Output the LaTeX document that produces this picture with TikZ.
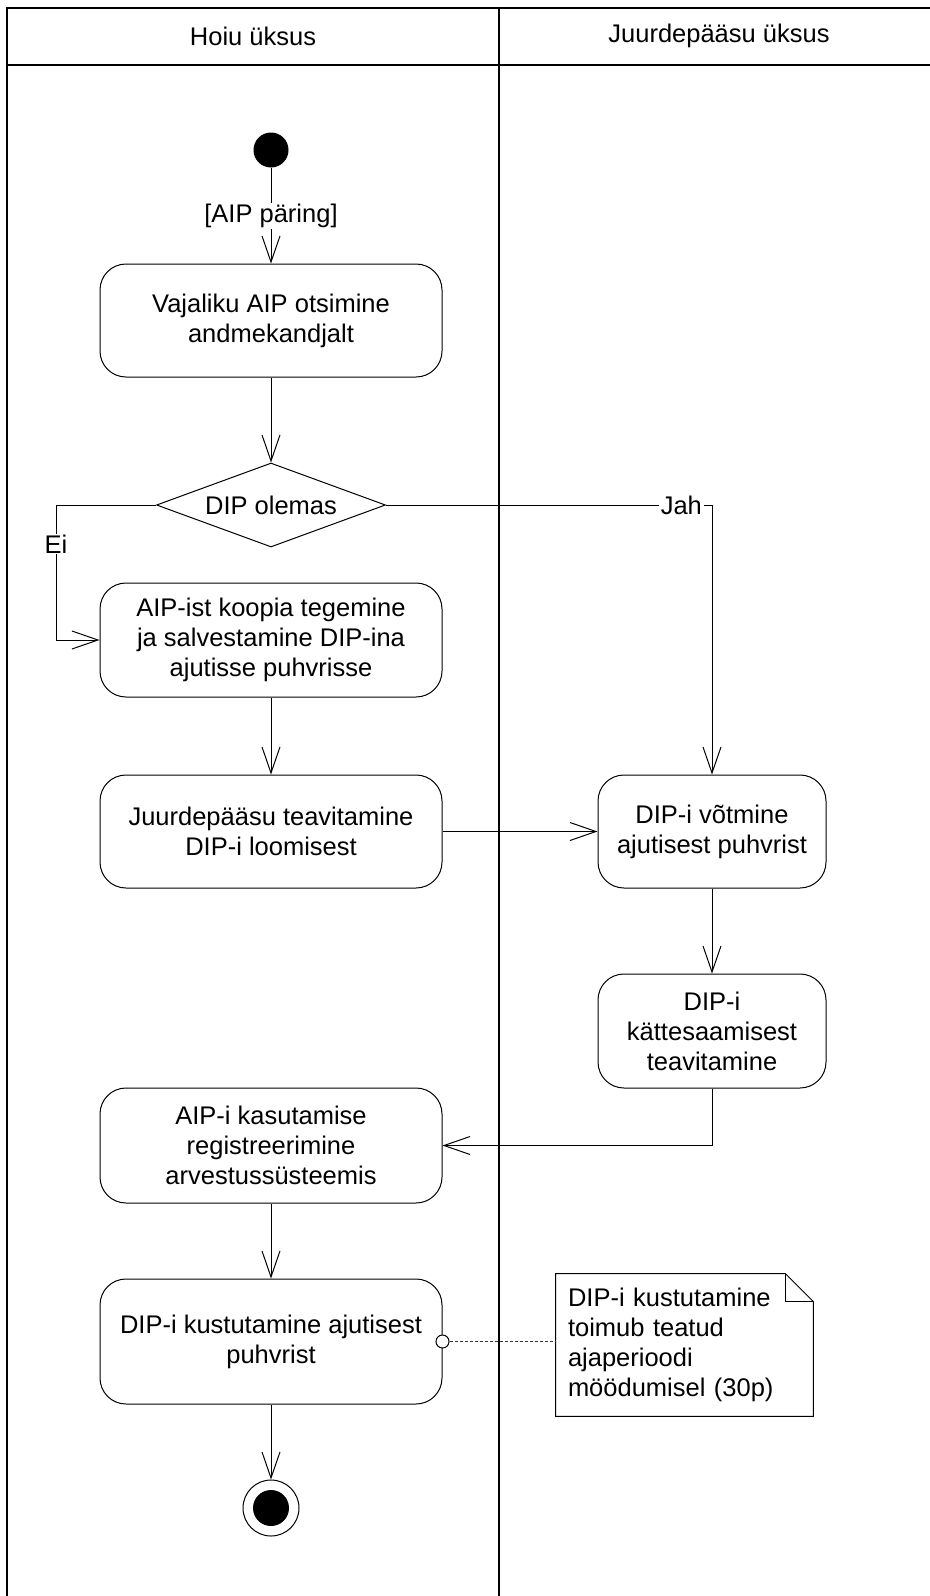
\documentclass[tikz,border=0pt]{standalone}
\usepackage{fontspec}
\setmainfont{Liberation Sans}
\usetikzlibrary{arrows.meta,shapes.geometric}
\begin{document}
\begin{tikzpicture}[x=0.5pt,y=-0.5pt,
  every node/.style={font=\fontsize{12.75pt}{15pt}\selectfont},
  lane/.style={line width=0.8pt},
  action/.style={draw, line width=0.5pt, rounded corners=13pt, align=center,
    minimum width=171pt, minimum height=56.5pt, inner sep=2pt},
  decision/.style={draw, line width=0.5pt, diamond, aspect=2.73, inner sep=0pt,
    minimum width=114.5pt, minimum height=42pt},
  flow/.style={line width=0.5pt, -{Straight Barb[length=13pt,width=9pt]}},
  guard/.style={fill=white, inner xsep=1pt, inner ysep=0.5pt},
  notebox/.style={minimum width=128.5pt, minimum height=71pt, inner xsep=6pt,
    text width=116.5pt, align=left},
  anchorpt/.style={circle, draw, fill=white, line width=0.5pt, minimum size=6.5pt, inner sep=0pt},
  notelink/.style={line width=0.4pt, dash pattern=on 1.5pt off 1pt, draw=black!80}
]
\useasboundingbox (0,0) rectangle (930,1596);

% swimlanes
\draw[lane] (7,1596) -- (7,8) -- (930,8);
\draw[lane] (7,65) -- (930,65);
\draw[lane] (499,8) -- (499,1596);
\node (laneA) at (253,36) {Hoiu üksus};
\node (laneB) at (719,36) {Juurdepääsu üksus};

% activities
\node[circle, fill=black, minimum size=17.5pt, inner sep=0pt] (start) at (271,150) {};
\node[action] (b1) at (271,320.5) {Vajaliku AIP otsimine\\andmekandjalt};
\node[decision] (dec) at (271,505) {DIP olemas};
\node[action, minimum height=57pt] (b2) at (271,640) {AIP-ist koopia tegemine\\ja salvestamine DIP-ina\\ajutisse puhvrisse};
\node[action] (b3) at (271,831.5) {Juurdepääsu teavitamine\\DIP-i loomisest};
\node[action, minimum width=114pt] (b4) at (712,831.5) {DIP-i võtmine\\ajutisest puhvrist};
\node[action, minimum width=114pt, minimum height=57pt] (b5) at (712,1031) {DIP-i\\kättesaamisest\\teavitamine};
\node[action, minimum height=57.5pt] (b6) at (271,1145.5) {AIP-i kasutamise\\registreerimine\\arvestussüsteemis};
\node[action, minimum height=62.5pt] (b7) at (271,1341.5) {DIP-i kustutamine ajutisest\\puhvrist};
\node[circle, draw, line width=0.5pt, minimum size=28pt, inner sep=0pt] (final) at (271,1508) {};
\node[circle, fill=black, minimum size=18pt, inner sep=0pt] (finaldot) at (final.center) {};

% note with folded corner
\node[notebox] (note) at (684.5,1345) {DIP-i kustutamine\\toimub teatud\\ajaperioodi\\möödumisel (30p)};
\draw[line width=0.5pt] (note.north west) -- ([xshift=-14pt]note.north east)
  -- ([yshift=-14pt]note.north east) -- (note.south east) -- (note.south west) -- cycle;
\draw[line width=0.5pt] ([xshift=-14pt]note.north east) -- ([xshift=-14pt,yshift=-14pt]note.north east)
  -- ([yshift=-14pt]note.north east);
\node[anchorpt] (pin) at (b7.east) {};
\draw[notelink] (pin.east) -- (pin.east -| note.west);

% control flow
\draw[flow] (start) -- node[guard] {[AIP päring]} (b1);
\draw[flow] (b1) -- (dec);
\coordinate (eiturn) at (56,505);
\draw[flow] (dec.west) -- (eiturn) |- node[pos=0.145, guard] {Ei} (b2.west);
\draw[flow] (dec.east) -| node[pos=0.453, guard] {Jah} (b4.north);
\draw[flow] (b2) -- (b3);
\draw[flow] (b3) -- (b4);
\draw[flow] (b4) -- (b5);
\draw[flow] (b5.south) |- (b6.east);
\draw[flow] (b6) -- (b7);
\draw[flow] (b7) -- (final);
\end{tikzpicture}
\end{document}
